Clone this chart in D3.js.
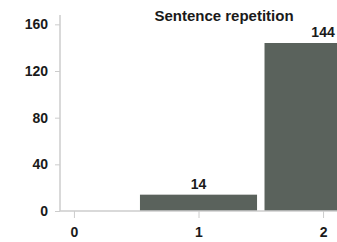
<!DOCTYPE html>
<html>
<head>
<script src="https://d3js.org/d3.v7.min.js"></script>
<style>
  body { margin: 0; background: #fff; }
  text { font-family: "Liberation Sans", Arial, sans-serif; font-weight: bold; fill: #1a1a1a; }
</style>
</head>
<body>
<script>
const categories = [0, 1, 2];
const counts = [0, 14, 144];
const yTicks = [0, 40, 80, 120, 160];
const title = "Sentence repetition";

const W = 337, H = 242;
const svg = d3.select("body").append("svg").attr("width", W).attr("height", H);

const x = d3.scaleLinear().domain([-0.112, 2.112]).range([60, 337]);
const y = d3.scaleLinear().domain([0, 168]).range([211, 15]);
const barW = x(0.94) - x(0);

const plot = svg.append("g");
plot.append("clipPath").attr("id", "clip")
  .append("rect").attr("x", 60).attr("y", 0).attr("width", W - 60).attr("height", 211);

plot.append("g").attr("clip-path", "url(#clip)")
  .selectAll("rect").data(categories).join("rect")
  .attr("x", (d) => x(d) - barW / 2)
  .attr("width", barW)
  .attr("y", (d, i) => y(counts[i]))
  .attr("height", (d, i) => y(0) - y(counts[i]))
  .attr("fill", "#5a625c");

// value labels
plot.selectAll("text.val").data(categories.filter((d, i) => counts[i] > 0)).join("text")
  .attr("class", "val")
  .attr("x", (d) => x(d))
  .attr("y", (d) => y(counts[d]) - 6)
  .attr("text-anchor", "middle")
  .style("font-size", "14px")
  .text((d) => counts[d]);

// y axis
const yAxis = svg.append("g").attr("transform", "translate(60,0)")
  .call(d3.axisLeft(y).tickValues(yTicks).tickSize(5).tickPadding(7));
yAxis.select(".domain").attr("d", "M0," + y(168) + "V" + y(0)).attr("stroke", "#ccc").attr("stroke-width", 1.5);
yAxis.selectAll(".tick line").attr("stroke", "#ccc");
yAxis.selectAll(".tick text").style("font-size", "14px").style("font-family", "Liberation Sans, Arial, sans-serif");

// x axis
const xAxis = svg.append("g").attr("transform", "translate(0," + y(0) + ")")
  .call(d3.axisBottom(x).tickValues(categories).tickFormat(d3.format("d")).tickSize(7).tickPadding(9));
xAxis.select(".domain").attr("d", "M60,0H" + W).attr("stroke", "#ccc").attr("stroke-width", 1.5);
xAxis.selectAll(".tick line").attr("stroke", "#ccc");
xAxis.selectAll(".tick text").style("font-size", "14px").style("font-family", "Liberation Sans, Arial, sans-serif");

svg.append("text")
  .attr("x", 224).attr("y", 21)
  .attr("text-anchor", "middle")
  .style("font-size", "15px")
  .text(title);
</script>
</body>
</html>
